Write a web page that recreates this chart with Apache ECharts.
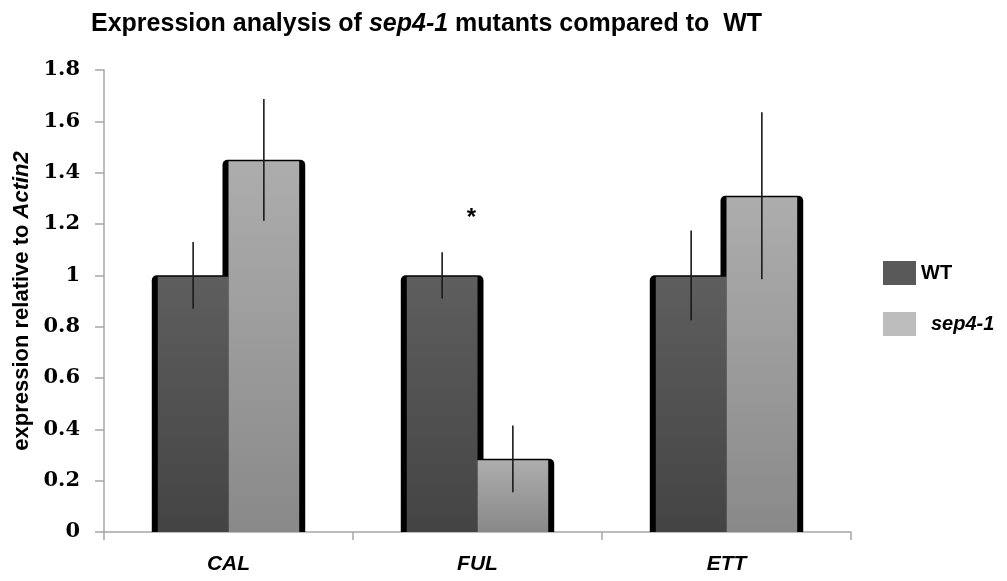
<!DOCTYPE html>
<html><head><meta charset="utf-8">
<script src="https://cdn.jsdelivr.net/npm/echarts@6/dist/echarts.min.js"></script>
<style>html,body{margin:0;padding:0;background:#fff}#c{width:1007px;height:581px}</style>
</head><body><div id="c"></div>
<script>
const categories = ['CAL', 'FUL', 'ETT'];
const wtValues = [1.0, 1.0, 1.0];
const wtErrors = [0.13, 0.09, 0.175];
const sepValues = [1.45, 0.285, 1.31];
const sepErrors = [0.237, 0.13, 0.325];
const sigMarks = ['', '*', ''];
const sigLevels = [null, 1.22, null];
const yMin = 0, yMax = 1.8, yStep = 0.2;

const narrow = "'Liberation Sans Narrow', 'Liberation Sans', sans-serif";
const tickFont = "'DejaVu Serif', serif";

function makeRender(dir, topColor, botColor) {
  return function (params, api) {
    const i = api.value(0);
    const v = api.value(1);
    const e = api.value(2);
    const base = api.coord([i, 0]);
    const top = api.coord([i, v]);
    const band = api.size([1, 0])[0];
    const faceW = band * 0.284;
    const side = 6;
    const cx = base[0];
    const x0 = dir < 0 ? cx - faceW : cx;
    const h = base[1] - top[1];
    const hi = api.coord([i, v + e])[1];
    const lo = api.coord([i, v - e])[1];
    const children = [
      { type: 'rect', z2: 1,
        shape: { x: x0 - side, y: top[1], width: faceW + 2 * side, height: h, r: [5, 5, 0, 0] },
        style: { fill: '#000' } },
      { type: 'rect', z2: 10,
        shape: { x: x0, y: top[1] + 1.5, width: faceW, height: h - 1.5 },
        style: { fill: new echarts.graphic.LinearGradient(0, 0, 0, 1, [
          { offset: 0, color: topColor }, { offset: 1, color: botColor }]) } },
      { type: 'line', z2: 20,
        shape: { x1: x0 + faceW / 2, y1: hi, x2: x0 + faceW / 2, y2: lo },
        style: { stroke: '#1a1a1a', lineWidth: 1.6 } }
    ];
    if (dir < 0 && sigMarks[i]) {
      const p = api.coord([i, sigLevels[i]]);
      children.push({ type: 'text', z2: 30,
        style: { x: p[0] - 6, y: p[1], text: sigMarks[i], align: 'center', verticalAlign: 'middle',
          font: "bold 24px " + narrow, fill: '#000' } });
    }
    return { type: 'group', children };
  };
}

const chart = echarts.init(document.getElementById('c'), null, { renderer: 'canvas' });
chart.setOption({
  animation: false,
  backgroundColor: '#fff',
  title: {
    left: 86, top: 7,
    text: '{b|Expression analysis of }{i|sep4-1}{b| mutants compared to  WT}',
    textStyle: {
      rich: {
        b: { fontFamily: narrow, fontWeight: 'bold', fontSize: 25, color: '#000' },
        i: { fontFamily: narrow, fontWeight: 'bold', fontStyle: 'italic', fontSize: 25, color: '#000' }
      }
    }
  },
  legend: {
    orient: 'vertical', left: 878, top: 256,
    itemWidth: 33, itemHeight: 24, itemGap: 27,
    data: [
      { name: 'WT', icon: 'rect', itemStyle: { color: '#595959' } },
      { name: 'sep4-1', icon: 'rect', itemStyle: { color: '#bdbdbd' } }
    ],
    formatter: n => n === 'WT' ? '{b|WT}' : '{i|sep4-1}',
    textStyle: {
      rich: {
        b: { fontFamily: narrow, fontWeight: 'bold', fontSize: 20, color: '#000' },
        i: { fontFamily: narrow, fontWeight: 'bold', fontStyle: 'italic', fontSize: 20, color: '#000', padding: [0, 0, 0, 10] }
      }
    }
  },
  grid: { left: 104, right: 156, top: 70, bottom: 49, containLabel: false },
  xAxis: {
    type: 'category', data: categories,
    axisLine: { lineStyle: { color: '#a6a6a6', width: 1.5 } },
    axisTick: { show: true, length: 8, lineStyle: { color: '#a6a6a6', width: 1.5 } },
    axisLabel: { margin: 22, fontFamily: narrow, fontWeight: 'bold', fontStyle: 'italic', fontSize: 21, color: '#000' }
  },
  yAxis: {
    type: 'value', min: yMin, max: yMax, interval: yStep,
    name: '{n|expression relative to }{i|Actin2}',
    nameLocation: 'middle', nameGap: 70, nameRotate: 90,
    nameTextStyle: {
      rich: {
        n: { fontFamily: narrow, fontWeight: 'bold', fontSize: 22, color: '#000' },
        i: { fontFamily: narrow, fontWeight: 'bold', fontStyle: 'italic', fontSize: 22, color: '#000' }
      }
    },
    axisLine: { show: true, lineStyle: { color: '#a6a6a6', width: 1.5 } },
    axisTick: { show: true, length: 9, lineStyle: { color: '#a6a6a6', width: 1.5 } },
    splitLine: { show: false },
    axisLabel: { margin: 24, fontFamily: tickFont, fontWeight: 'bold', fontSize: 21, color: '#000',
      formatter: v => String(Math.round(v * 10) / 10) }
  },
  series: [
    { name: 'WT', type: 'custom', itemStyle: { color: '#595959' },
      renderItem: makeRender(-1, '#5e5e5e', '#444444'),
      encode: { x: 0, y: 1 },
      data: categories.map((c, i) => [i, wtValues[i], wtErrors[i]]) },
    { name: 'sep4-1', type: 'custom', itemStyle: { color: '#bdbdbd' },
      renderItem: makeRender(1, '#adadad', '#898989'),
      encode: { x: 0, y: 1 },
      data: categories.map((c, i) => [i, sepValues[i], sepErrors[i]]) }
  ]
});
</script></body></html>
